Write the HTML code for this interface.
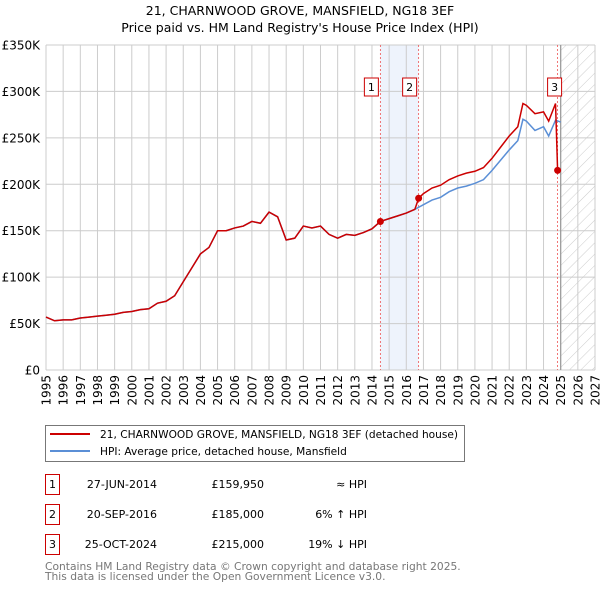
<!DOCTYPE html>
<html><head><meta charset="utf-8"><style>
body{margin:0;background:#fff;font-family:"Liberation Sans","DejaVu Sans",sans-serif;}
svg text{font-family:"DejaVu Sans","Liberation Sans",sans-serif;}
</style></head><body>
<svg id="c" width="600" height="590" viewBox="0 0 600 590">
<defs><pattern id="hatch" width="8" height="8" patternUnits="userSpaceOnUse" patternTransform="rotate(45)"><line x1="0" y1="0" x2="0" y2="8" stroke="#ccc" stroke-width="1"/></pattern></defs>
<text x="300" y="15" text-anchor="middle" font-size="12.5">21, CHARNWOOD GROVE, MANSFIELD, NG18 3EF</text>
<text x="300" y="32" text-anchor="middle" font-size="12.5">Price paid vs. HM Land Registry's House Price Index (HPI)</text>
<g id="grid"></g><g id="marks"></g>
<g>
<rect x="45.5" y="425.5" width="419" height="36" fill="#fff" stroke="#777"/>
<line x1="50" y1="434" x2="90" y2="434" stroke="#cc0000" stroke-width="2"/>
<text x="100" y="438" font-size="10.6">21, CHARNWOOD GROVE, MANSFIELD, NG18 3EF (detached house)</text>
<line x1="50" y1="451" x2="90" y2="451" stroke="#5b8fd6" stroke-width="2"/>
<text x="100" y="455" font-size="10.6">HPI: Average price, detached house, Mansfield</text>
</g>
<g id="table" font-size="11"></g>
<text x="45" y="570" font-size="10.7" fill="#777">Contains HM Land Registry data © Crown copyright and database right 2025.</text>
<text x="45" y="580" font-size="10.7" fill="#777">This data is licensed under the Open Government Licence v3.0.</text>
</svg>
<script>
const years=[1995,1996,1997,1998,1999,2000,2001,2002,2003,2004,2005,2006,2007,2008,2009,2010,2011,2012,2013,2014,2015,2016,2017,2018,2019,2020,2021,2022,2023,2024,2025,2026,2027];
const yTicks=[0,50000,100000,150000,200000,250000,300000,350000];
const yTickLabels=["£0","£50K","£100K","£150K","£200K","£250K","£300K","£350K"];
const hpiDates=[1995,1995.5,1996,1996.5,1997,1997.5,1998,1998.5,1999,1999.5,2000,2000.5,2001,2001.5,2002,2002.5,2003,2003.5,2004,2004.5,2005,2005.5,2006,2006.5,2007,2007.5,2008,2008.5,2009,2009.5,2010,2010.5,2011,2011.5,2012,2012.5,2013,2013.5,2014,2014.5,2015,2015.5,2016,2016.5,2017,2017.5,2018,2018.5,2019,2019.5,2020,2020.5,2021,2021.5,2022,2022.5,2022.8,2023,2023.5,2024,2024.3,2024.7,2025];
const hpiValues=[57,53,54,54,56,57,58,59,60,62,63,65,66,72,74,80,95,110,125,132,150,150,153,155,160,158,170,165,140,142,155,153,155,146,142,146,145,148,152,160,163,166,169,173,178,183,186,192,196,198,201,205,215,226,237,247,270,268,258,262,252,269,267];
const propDates=[1995,1995.5,1996,1996.5,1997,1997.5,1998,1998.5,1999,1999.5,2000,2000.5,2001,2001.5,2002,2002.5,2003,2003.5,2004,2004.5,2005,2005.5,2006,2006.5,2007,2007.5,2008,2008.5,2009,2009.5,2010,2010.5,2011,2011.5,2012,2012.5,2013,2013.5,2014,2014.49,2015,2015.5,2016,2016.5,2016.72,2017,2017.5,2018,2018.5,2019,2019.5,2020,2020.5,2021,2021.5,2022,2022.5,2022.8,2023,2023.5,2024,2024.3,2024.7,2024.82];
const propValues=[57,53,54,54,56,57,58,59,60,62,63,65,66,72,74,80,95,110,125,132,150,150,153,155,160,158,170,165,140,142,155,153,155,146,142,146,145,148,152,159.95,163,166,169,173,185,190,196,199,205,209,212,214,218,228,240,252,262,287,285,276,278,268,287,215];
const saleDates=[2014.49,2016.72,2024.82];
const salePrices=[159950,185000,215000];
const saleLabels=["1","2","3"];
const saleDateText=["27-JUN-2014","20-SEP-2016","25-OCT-2024"];
const salePriceText=["£159,950","£185,000","£215,000"];
const saleHpiText=["≈ HPI","6% ↑ HPI","19% ↓ HPI"];

const X0=46,X1=595,Y0=370,Y1=45;
const xs=t=>X0+(t-1995)/(2027-1995)*(X1-X0);
const ys=v=>Y0-v/350000*(Y0-Y1);
const NS="http://www.w3.org/2000/svg";
function mk(tag,attrs,parent,txt){const e=document.createElementNS(NS,tag);for(const k in attrs)e.setAttribute(k,attrs[k]);if(txt!=null)e.textContent=txt;parent.appendChild(e);return e;}
const grid=document.getElementById('grid'),marks=document.getElementById('marks'),table=document.getElementById('table');
let r=mk('rect',{x:xs(saleDates[0]),y:Y1,width:xs(saleDates[1])-xs(saleDates[0]),height:Y0-Y1,fill:'#eef3fc'},grid);


r=mk('rect',{x:xs(2025),y:Y1,width:X1-xs(2025),height:Y0-Y1,fill:'url(#hatch)'},grid);


years.forEach(y=>{
  const l=mk('line',{x1:xs(y),x2:xs(y),y1:Y1,y2:Y0,stroke:'#ccc'},grid);
  
  
  const t=mk('text',{x:0,y:0,'font-size':12,'text-anchor':'end',transform:`translate(${xs(y)+4.5},375) rotate(-90)`},grid,String(y));
  
  
});
yTicks.forEach((v,i)=>{
  const l=mk('line',{x1:X0,x2:X1,y1:ys(v),y2:ys(v),stroke:'#ccc'},grid);
  
  
  const t=mk('text',{x:40,y:ys(v)+4.5,'font-size':12,'text-anchor':'end'},grid,yTickLabels[i]);
  
  
});
const nl=mk('line',{x1:xs(2025),x2:xs(2025),y1:Y1,y2:Y0,stroke:'#999','stroke-width':1.2},grid);


saleDates.forEach(d=>{
  const l=mk('line',{x1:xs(d),x2:xs(d),y1:Y1,y2:Y0,stroke:'#e55','stroke-dasharray':'2,2','stroke-width':0.8},grid);
  
  
});
const hp=mk('polyline',{points:hpiDates.map((d,i)=>xs(d)+','+ys(hpiValues[i]*1000)).join(' '),fill:'none',stroke:'#5b8fd6','stroke-width':1.5},marks);


const pp=mk('polyline',{points:propDates.map((d,i)=>xs(d)+','+ys(propValues[i]*1000)).join(' '),fill:'none',stroke:'#cc0000','stroke-width':1.5},marks);


saleDates.forEach((d,i)=>{
  const c=mk('circle',{cx:xs(d),cy:ys(salePrices[i]),r:3.5,fill:'#cc0000'},marks);
  
  
  const bx=xs(d)-(i==2?3:9);
  const b=mk('rect',{x:bx-7,y:78,width:14,height:18,fill:'#fff',stroke:'#cc0000'},marks);
  
  
  const t=mk('text',{x:bx,y:91,'font-size':11,'text-anchor':'middle'},marks,saleLabels[i]);
  
  
  const ry=[483,513,543][i];
  const tb=mk('rect',{x:45.5,y:ry-8.5,width:14,height:20,fill:'#fff',stroke:'#cc0000'},table);
  
  
  let tt=mk('text',{x:52.5,y:ry+5,'text-anchor':'middle'},table,saleLabels[i]);
  
  
  tt=mk('text',{x:157,y:ry+5,'text-anchor':'end'},table,saleDateText[i]);
  
  
  tt=mk('text',{x:264,y:ry+5,'text-anchor':'end'},table,salePriceText[i]);
  
  
  tt=mk('text',{x:367,y:ry+5,'text-anchor':'end'},table,saleHpiText[i]);
  
  
});
</script>
</body></html>
